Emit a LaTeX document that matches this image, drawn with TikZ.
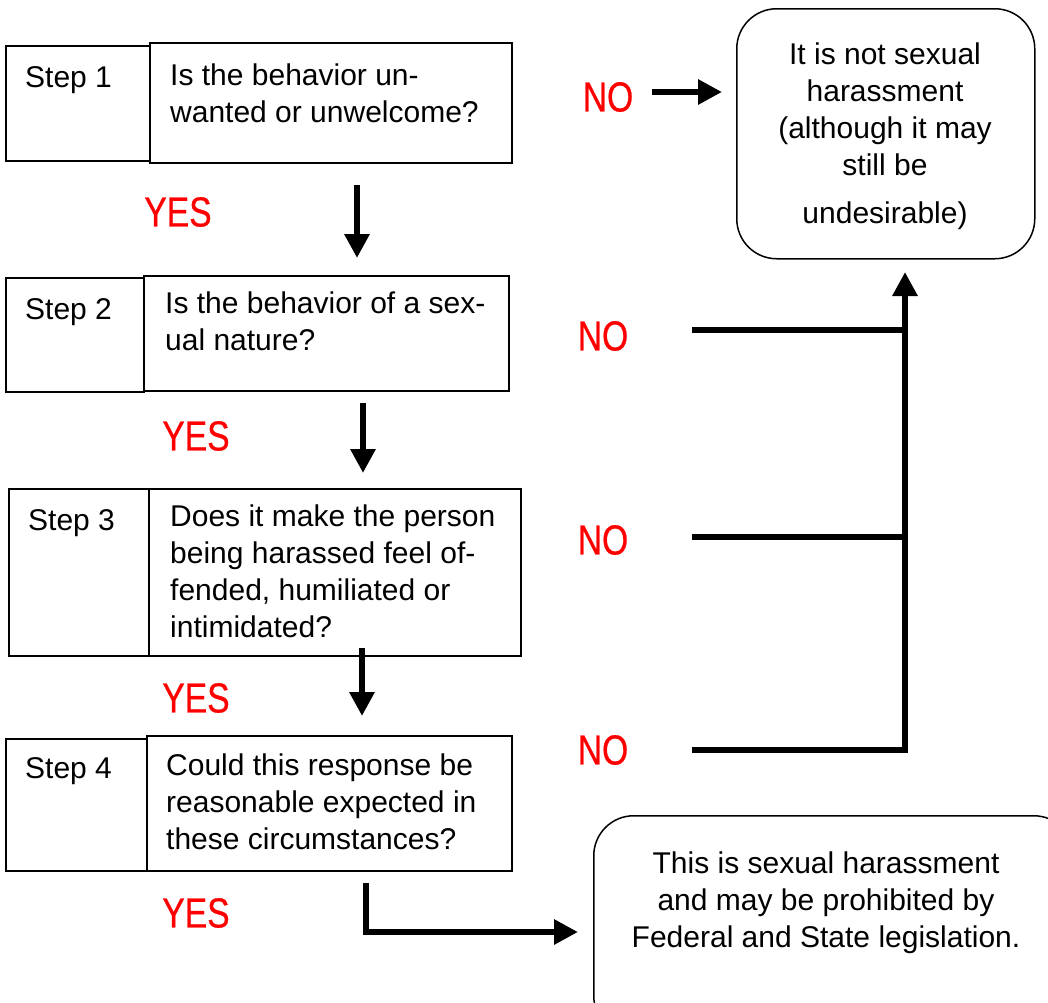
\documentclass[tikz,border=0pt]{standalone}
\usepackage{fontspec}
\setmainfont{Liberation Sans}
\newfontfamily\labfont[FakeStretch=0.8,FakeBold=0.6]{Liberation Sans}
\usetikzlibrary{arrows.meta}
\begin{document}
\begin{tikzpicture}[x=1pt,y=-1pt,
 box/.style={draw, line width=1.5pt, anchor=north west, inner sep=0pt},
 endbox/.style={draw, line width=1.5pt, rounded corners=40pt, anchor=north west, inner sep=0pt},
 txt/.style={font=\fontsize{30}{37}\selectfont, anchor=base west, align=left, inner sep=0pt},
 ctxt/.style={font=\fontsize{30}{37}\selectfont, anchor=base, align=center, inner sep=0pt},
 yes/.style={font=\labfont\fontsize{42}{44}\selectfont, text=red, inner sep=0pt},
 conn/.style={line width=6.5pt},
 arr/.style={line width=6.5pt, line join=miter, -{Triangle[length=24pt,width=24pt]}}]
\useasboundingbox (0,0) rectangle (1048,1002);
% step boxes
\node[box, minimum width=144pt, minimum height=115pt] (s1l) at (5,45) {};
\node[box, minimum width=362pt, minimum height=120pt] (s1r) at (149,42) {};
\node[box, minimum width=138pt, minimum height=114pt] (s2l) at (5,277) {};
\node[box, minimum width=365pt, minimum height=115pt] (s2r) at (143,275) {};
\node[box, minimum width=140pt, minimum height=167pt] (s3l) at (8,488) {};
\node[box, minimum width=372pt, minimum height=167pt] (s3r) at (148,488) {};
\node[box, minimum width=141pt, minimum height=132pt] (s4l) at (5,738) {};
\node[box, minimum width=365pt, minimum height=135pt] (s4r) at (146,735) {};
% texts (base anchor = baseline of the last line)
\node[txt] (t1) at (25,87) {Step 1};
\node[txt] (t2) at (25,319) {Step 2};
\node[txt] (t3) at (28,530) {Step 3};
\node[txt] (t4) at (25,778) {Step 4};
\node[txt] (q1) at (170,122) {Is the behavior un-\\wanted or unwelcome?};
\node[txt] (q2) at (165,350) {Is the behavior of a sex-\\ual nature?};
\node[txt] (q3) at (170,637) {Does it make the person\\being harassed feel of-\\fended, humiliated or\\intimidated?};
\node[txt] (q4) at (166,849) {Could this response be\\reasonable expected in\\these circumstances?};
% end boxes
\node[endbox, minimum width=298pt, minimum height=250pt] (notsh) at (736,8) {};
\node[ctxt] (notsht) at (885,223) {It is not sexual\\harassment\\(although it may\\still be\\[11pt]undesirable)};
\node[endbox, minimum width=480pt, minimum height=220pt] (issh) at (593,815) {};
\node[ctxt] (issht) at (826,947) {This is sexual harassment\\and may be prohibited by\\Federal and State legislation.};
% labels
\node[yes] (y1) at (178,212) {YES};
\node[yes] (y2) at (196,436) {YES};
\node[yes] (y3) at (196,698) {YES};
\node[yes] (y4) at (196,913) {YES};
\node[yes] (n1) at (608,97) {NO};
\node[yes] (n2) at (603,336) {NO};
\node[yes] (n3) at (603,540) {NO};
\node[yes] (n4) at (603,750) {NO};
% connector points
\coordinate (a1s) at (357,185); \coordinate (a1e) at (357,258);
\coordinate (a2s) at (363,403); \coordinate (a2e) at (363,473);
\coordinate (a3s) at (362,648); \coordinate (a3e) at (362,716);
\coordinate (a4s) at (366,883); \coordinate (a4m) at (366,932); \coordinate (a4e) at (578,932);
\coordinate (n1s) at (652,92); \coordinate (n1e) at (722,92);
\coordinate (l2s) at (692,330); \coordinate (l2e) at (905,330);
\coordinate (l3s) at (692,537); \coordinate (l3e) at (905,537);
\coordinate (l4s) at (692,750); \coordinate (l4e) at (905,750);
\coordinate (vtop) at (905,272);
% connectors
\draw[arr] (a1s) -- (a1e);
\draw[arr] (a2s) -- (a2e);
\draw[arr] (a3s) -- (a3e);
\draw[arr] (a4s) -- (a4m) -- (a4e);
\draw[arr] (n1s) -- (n1e);
\draw[conn] (l2s) -- (l2e);
\draw[conn] (l3s) -- (l3e);
\draw[conn, line join=miter] (l4s) -- (l4e) -- ([yshift=3.25pt]l4e);
\draw[arr] ([yshift=3.25pt]l4e) -- (vtop);
\end{tikzpicture}
\end{document}
